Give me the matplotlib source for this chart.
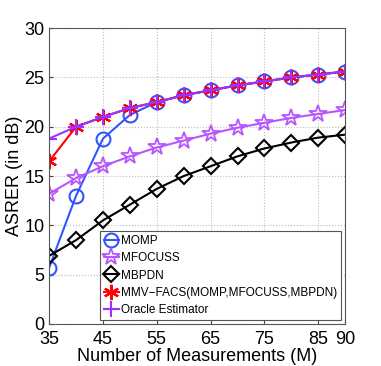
import matplotlib
matplotlib.use("Agg")
import matplotlib.pyplot as plt
import numpy as np

plt.rcParams['font.family'] = ['Liberation Sans', 'DejaVu Sans']

# Number of measurements
M = [35, 40, 45, 50, 55, 60, 65, 70, 75, 80, 85, 90]

# ASRER (dB) per algorithm
momp = [5.7, 13.0, 18.8, 21.2, 22.5, 23.2, 23.7, 24.2, 24.6, 25.0, 25.3, 25.6]
mfocuss = [13.2, 14.8, 16.0, 17.0, 17.9, 18.6, 19.3, 19.9, 20.4, 20.9, 21.3, 21.7]
mbpdn = [6.9, 8.5, 10.5, 12.1, 13.7, 15.0, 16.0, 17.0, 17.8, 18.4, 18.9, 19.2]
mmv_facs = [16.5, 20.0, 21.0, 21.9, 22.5, 23.2, 23.7, 24.2, 24.6, 25.0, 25.3, 25.6]
oracle = [18.8, 20.0, 21.0, 21.9, 22.5, 23.2, 23.7, 24.2, 24.6, 25.0, 25.3, 25.6]

fig = plt.figure(figsize=(3.81, 3.66), dpi=100)
ax = fig.add_axes([0.129, 0.115, 0.777, 0.808])

ax.plot(M, momp, color='#3355ff', marker='o', ms=10, mfc='none', mew=1.5, lw=1.5, label='MOMP')
ax.plot(M, mfocuss, color='#b855ff', marker='*', ms=13, mfc='none', mew=1.3, lw=1.5, label='MFOCUSS')
ax.plot(M, mbpdn, color='black', marker='D', ms=8.5, mfc='none', mew=1.5, lw=1.5, label='MBPDN')
ax.plot(M, mmv_facs, color='red', marker=(6, 2, 0), ms=11, mew=1.6, lw=1.5, label='MMV\u2212FACS(MOMP,MFOCUSS,MBPDN)')
ax.plot(M, oracle, color='#9933ff', marker='+', ms=12, mew=1.5, lw=1.5, label='Oracle Estimator')

ax.set_xlim(35, 90)
ax.set_ylim(0, 30)
ax.set_xticks([35, 45, 55, 65, 75, 85, 90])
ax.set_yticks([0, 5, 10, 15, 20, 25, 30])
ax.tick_params(labelsize=13, direction='in', length=3, color='#444444')
ax.tick_params(axis='x', pad=5)
ax.grid(True, linestyle=':', color='#bbbbbb', lw=0.8)
for s in ax.spines.values():
    s.set_color('#555555')
    s.set_linewidth(0.8)

ax.set_xlabel('Number of Measurements (M)', fontsize=13, labelpad=0)
ax.set_ylabel('ASRER (in dB)', fontsize=13, labelpad=1)

leg = ax.legend(loc='lower right', fontsize=8.5, handlelength=1.3, handletextpad=0.2,
                borderpad=0.3, labelspacing=0.45, fancybox=False, framealpha=1,
                edgecolor='#555555', borderaxespad=0.35)
leg.get_frame().set_linewidth(0.8)

fig.savefig('out.png', dpi=100)
